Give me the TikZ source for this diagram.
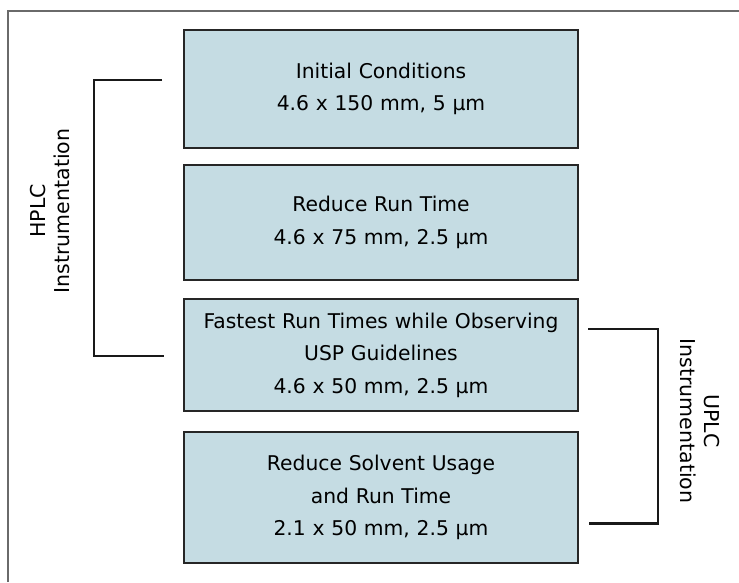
\documentclass[tikz,border=0pt]{standalone}
\usepackage{fontspec}
\setmainfont{DejaVu Sans}
\usetikzlibrary{positioning, calc}

\definecolor{boxblue}{HTML}{C5DCE3}
\definecolor{framegray}{HTML}{6A6A6A}

\tikzset{
    stage/.style={draw=black!85, line width=2pt, fill=boxblue, text width=390pt,
                  minimum width=394pt, align=center, inner sep=0pt,
                  font=\fontsize{20.3}{32.5}\selectfont},
    bracket/.style={line width=2.2pt, black!90},
    instlabel/.style={align=center, font=\fontsize{20.5}{24.5}\selectfont}
}

\begin{document}
\begin{tikzpicture}[x=1pt, y=-1pt]
    \useasboundingbox (0,0) rectangle (739,582);
    \draw[framegray, line width=1.8pt] (8,582) -- (8,11) -- (739,11);

    \node[stage, minimum height=118pt] (init) at (381,89) {Initial Conditions\\4.6 x 150 mm, 5 µm};
    \node[stage, minimum height=115pt, below=15pt of init] (runtime) {Reduce Run Time\\4.6 x 75 mm, 2.5 µm};
    \node[stage, minimum height=112pt, below=17pt of runtime] (fast) {Fastest Run Times while Observing\\USP Guidelines\\4.6 x 50 mm, 2.5 µm};
    \node[stage, minimum height=131pt, below=19pt of fast] (solvent) {Reduce Solvent Usage\\and Run Time\\2.1 x 50 mm, 2.5 µm};

    % HPLC bracket
    \coordinate (hplctop) at ($(init.west)+(-21,-9)$);
    \coordinate (hplcbot) at ($(fast.west)+(-19,1)$);
    \draw[bracket] (hplctop) -- ++(-68,0) |- (hplcbot);
    \node[instlabel, rotate=90] (hplc) at (50,211) {HPLC\\Instrumentation};

    % UPLC bracket
    \coordinate (uplctop) at ($(fast.east)+(9,-26)$);
    \coordinate (uplcbot) at ($(solvent.east)+(10,26)$);
    \draw[bracket] (uplctop) -- ++(70,0) |- (uplcbot);
    \node[instlabel, rotate=-90] (uplc) at (700,421) {UPLC\\Instrumentation};
\end{tikzpicture}
\end{document}
